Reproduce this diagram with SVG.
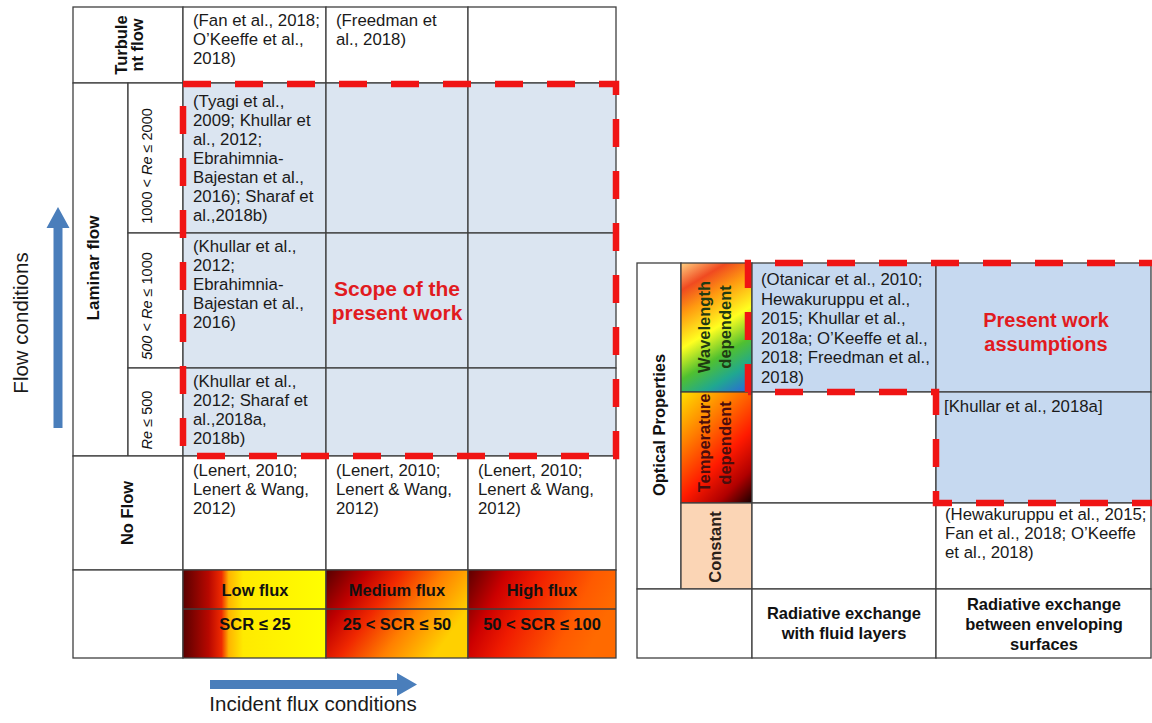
<svg xmlns="http://www.w3.org/2000/svg" width="1152" height="723" viewBox="0 0 1152 723">
  <defs>
    <style>
      .cell { fill: #ffffff; stroke: #3f3f3f; stroke-width: 1.3; }
      .hl { fill: #dbe5f1; stroke: #3f3f3f; stroke-width: 1.3; }
      .hl2 { fill: #c6d9f0; stroke: #3f3f3f; stroke-width: 1.3; }
      .grid { fill: none; stroke: #3f3f3f; stroke-width: 1.3; }
      .ref { font-family: "Liberation Sans", Arial, sans-serif; font-size: 16.8px; fill: #1a1a1a; }
      .lab { font-family: "Liberation Sans", Arial, sans-serif; font-size: 16.5px; font-weight: bold; fill: #111111; }
      .re { font-family: "Liberation Sans", Arial, sans-serif; font-size: 14.5px; fill: #111111; }
      .axis { font-family: "Liberation Sans", Arial, sans-serif; font-size: 20.5px; fill: #1a1a1a; }
      .scope { font-family: "Liberation Sans", Arial, sans-serif; font-size: 21px; font-weight: bold; fill: #e11b1f; text-anchor: middle; }
      .dash { fill: none; stroke: #f01414; stroke-width: 6.5; stroke-dasharray: 28 24; }
      .arrow { fill: #4a7ebb; }
      .mid { text-anchor: middle; }
    </style>
    <linearGradient id="gLow" x1="0" y1="0" x2="1" y2="0">
      <stop offset="0" stop-color="#5a0000"/>
      <stop offset="0.18" stop-color="#b80800"/>
      <stop offset="0.27" stop-color="#ef2a00"/>
      <stop offset="0.32" stop-color="#ffb400"/>
      <stop offset="0.42" stop-color="#ffea00"/>
      <stop offset="1" stop-color="#ffff00"/>
    </linearGradient>
    <linearGradient id="gMed" x1="0" y1="0" x2="1" y2="0.45">
      <stop offset="0" stop-color="#560000"/>
      <stop offset="0.25" stop-color="#c00000"/>
      <stop offset="0.45" stop-color="#f02800"/>
      <stop offset="0.7" stop-color="#ff8000"/>
      <stop offset="1" stop-color="#ffd000"/>
    </linearGradient>
    <linearGradient id="gHigh" x1="0" y1="0" x2="1" y2="0.3">
      <stop offset="0" stop-color="#5c0000"/>
      <stop offset="0.25" stop-color="#cc0000"/>
      <stop offset="0.45" stop-color="#f01c00"/>
      <stop offset="0.8" stop-color="#ff5a00"/>
      <stop offset="1" stop-color="#ff6a00"/>
    </linearGradient>
    <!-- spectrum running from the upper left to the lower right corner -->
    <linearGradient id="gWave" gradientUnits="userSpaceOnUse" x1="681" y1="263" x2="757" y2="389">
      <stop offset="0" stop-color="#ffd080"/>
      <stop offset="0.16" stop-color="#f04a20"/>
      <stop offset="0.3" stop-color="#ff9a10"/>
      <stop offset="0.5" stop-color="#ffff20"/>
      <stop offset="0.68" stop-color="#50c030"/>
      <stop offset="0.83" stop-color="#20a890"/>
      <stop offset="0.96" stop-color="#2a70d0"/>
      <stop offset="1" stop-color="#3060e0"/>
    </linearGradient>
    <linearGradient id="gTemp" gradientUnits="userSpaceOnUse" x1="681" y1="392" x2="771" y2="482">
      <stop offset="0" stop-color="#ffe000"/>
      <stop offset="0.3" stop-color="#ff8000"/>
      <stop offset="0.6" stop-color="#ff1a00"/>
      <stop offset="0.82" stop-color="#b00000"/>
      <stop offset="1" stop-color="#200000"/>
    </linearGradient>
  </defs>

  <rect width="1152" height="723" fill="#ffffff"/>

  <!-- ===== Flow-conditions table ===== -->
  <g id="turbulent-label">
    <rect class="cell" x="73" y="7" width="110" height="76"/>
    <text class="lab mid" transform="translate(127,45) rotate(-90)">Turbule</text>
    <text class="lab mid" transform="translate(143,45) rotate(-90)">nt flow</text>
  </g>
  <g id="turbulent-low">
    <rect class="cell" x="183" y="7" width="143" height="76"/>
    <text class="ref"><tspan x="193" y="26">(Fan et al., 2018;</tspan><tspan x="193" y="45">O’Keeffe et al.,</tspan><tspan x="193" y="64">2018)</tspan></text>
  </g>
  <g id="turbulent-medium">
    <rect class="cell" x="326" y="7" width="142" height="76"/>
    <text class="ref"><tspan x="336" y="26">(Freedman et</tspan><tspan x="336" y="45">al., 2018)</tspan></text>
  </g>
  <g id="turbulent-high">
    <rect class="cell" x="468" y="7" width="148" height="76"/>
  </g>

  <g id="laminar-label">
    <rect class="cell" x="73" y="83" width="55" height="373"/>
    <text class="lab mid" style="font-size:17px" transform="translate(99,268) rotate(-90)">Laminar flow</text>
  </g>
  <g id="re-1000-2000">
    <rect class="cell" x="128" y="83" width="55" height="150"/>
    <text class="re mid" transform="translate(152,166) rotate(-90)">1000 &lt; <tspan font-style="italic">Re</tspan> ≤ 2000</text>
  </g>
  <g id="re-500-1000">
    <rect class="cell" x="128" y="233" width="55" height="135"/>
    <text class="re mid" transform="translate(152,306) rotate(-90)"><tspan font-style="italic">500</tspan>  &lt; <tspan font-style="italic">Re</tspan> ≤ 1000</text>
  </g>
  <g id="re-500">
    <rect class="cell" x="128" y="368" width="55" height="88"/>
    <text class="re mid" transform="translate(152,420) rotate(-90)"><tspan font-style="italic">Re</tspan> ≤ 500</text>
  </g>

  <g id="laminar-high-re">
    <rect class="hl" x="183" y="83" width="143" height="150"/>
    <rect class="hl" x="326" y="83" width="142" height="150"/>
    <rect class="hl" x="468" y="83" width="148" height="150"/>
    <text class="ref"><tspan x="193" y="107">(Tyagi et al.,</tspan><tspan x="193" y="126">2009; Khullar et</tspan><tspan x="193" y="145">al., 2012;</tspan><tspan x="193" y="164">Ebrahimnia-</tspan><tspan x="193" y="183">Bajestan et al.,</tspan><tspan x="193" y="202">2016); Sharaf et</tspan><tspan x="193" y="221">al.,2018b)</tspan></text>
  </g>
  <g id="laminar-mid-re">
    <rect class="hl" x="183" y="233" width="143" height="135"/>
    <rect class="hl" x="326" y="233" width="142" height="135"/>
    <rect class="hl" x="468" y="233" width="148" height="135"/>
    <text class="ref"><tspan x="193" y="252">(Khullar et al.,</tspan><tspan x="193" y="271">2012;</tspan><tspan x="193" y="290">Ebrahimnia-</tspan><tspan x="193" y="309">Bajestan et al.,</tspan><tspan x="193" y="328">2016)</tspan></text>
  </g>
  <g id="laminar-low-re">
    <rect class="hl" x="183" y="368" width="143" height="88"/>
    <rect class="hl" x="326" y="368" width="142" height="88"/>
    <rect class="hl" x="468" y="368" width="148" height="88"/>
    <text class="ref"><tspan x="193" y="387">(Khullar et al.,</tspan><tspan x="193" y="406">2012; Sharaf et</tspan><tspan x="193" y="425">al.,2018a,</tspan><tspan x="193" y="444">2018b)</tspan></text>
  </g>

  <g id="noflow-label">
    <rect class="cell" x="73" y="456" width="110" height="114"/>
    <text class="lab mid" transform="translate(133,513) rotate(-90)">No Flow</text>
  </g>
  <g id="noflow-low">
    <rect class="cell" x="183" y="456" width="143" height="114"/>
    <text class="ref"><tspan x="193" y="476">(Lenert, 2010;</tspan><tspan x="193" y="495">Lenert &amp; Wang,</tspan><tspan x="193" y="514">2012)</tspan></text>
  </g>
  <g id="noflow-medium">
    <rect class="cell" x="326" y="456" width="142" height="114"/>
    <text class="ref"><tspan x="336" y="476">(Lenert, 2010;</tspan><tspan x="336" y="495">Lenert &amp; Wang,</tspan><tspan x="336" y="514">2012)</tspan></text>
  </g>
  <g id="noflow-high">
    <rect class="cell" x="468" y="456" width="148" height="114"/>
    <text class="ref"><tspan x="478" y="476">(Lenert, 2010;</tspan><tspan x="478" y="495">Lenert &amp; Wang,</tspan><tspan x="478" y="514">2012)</tspan></text>
  </g>

  <g id="flux-corner">
    <rect class="cell" x="73" y="570" width="110" height="88"/>
  </g>
  <g id="flux-low">
    <rect x="183" y="570" width="143" height="88" fill="url(#gLow)" stroke="#3f3f3f" stroke-width="1.3"/>
    <line class="grid" x1="183" y1="609" x2="326" y2="609"/>
    <text class="lab mid" x="255" y="596">Low flux</text>
    <text class="lab mid" x="255" y="630">SCR ≤ 25</text>
  </g>
  <g id="flux-medium">
    <rect x="326" y="570" width="142" height="88" fill="url(#gMed)" stroke="#3f3f3f" stroke-width="1.3"/>
    <line class="grid" x1="326" y1="609" x2="468" y2="609"/>
    <text class="lab mid" x="397" y="596">Medium flux</text>
    <text class="lab mid" x="397" y="630">25 &lt; SCR ≤ 50</text>
  </g>
  <g id="flux-high">
    <rect x="468" y="570" width="148" height="88" fill="url(#gHigh)" stroke="#3f3f3f" stroke-width="1.3"/>
    <line class="grid" x1="468" y1="609" x2="616" y2="609"/>
    <text class="lab mid" x="542" y="596">High flux</text>
    <text class="lab mid" x="542" y="630">50 &lt; SCR ≤ 100</text>
  </g>

  <g id="scope">
    <path class="dash" d="M183,84 H616 V456 H183 Z"/>
    <text class="scope" x="397" y="296">Scope of the</text>
    <text class="scope" x="397" y="320">present work</text>
  </g>

  <!-- ===== Optical-properties table ===== -->
  <g id="optical-label">
    <rect class="cell" x="637" y="263" width="44" height="326"/>
    <text class="lab mid" transform="translate(665,425) rotate(-90)">Optical Properties</text>
  </g>
  <g id="wavelength-label">
    <rect x="681" y="263" width="71" height="129" fill="url(#gWave)" stroke="#3f3f3f" stroke-width="1.3"/>
    <text class="lab mid" style="fill:#1f3a12" transform="translate(710,327) rotate(-90)">Wavelength</text>
    <text class="lab mid" style="fill:#1f3a12" transform="translate(731,327) rotate(-90)">dependent</text>
  </g>
  <g id="temperature-label">
    <rect x="681" y="392" width="71" height="111" fill="url(#gTemp)" stroke="#3f3f3f" stroke-width="1.3"/>
    <text class="lab mid" style="fill:#4a0d0d" transform="translate(710,443) rotate(-90)">Temperature</text>
    <text class="lab mid" style="fill:#4a0d0d" transform="translate(731,443) rotate(-90)">dependent</text>
  </g>
  <g id="constant-label">
    <rect x="681" y="503" width="71" height="86" fill="#fbd5b5" stroke="#3f3f3f" stroke-width="1.3"/>
    <text class="lab mid" style="fill:#2a2018" transform="translate(721,547) rotate(-90)">Constant</text>
  </g>

  <g id="wavelength-fluid">
    <rect class="hl2" x="752" y="263" width="184" height="129"/>
    <text class="ref"><tspan x="761" y="285">(Otanicar et al., 2010;</tspan><tspan x="761" y="304.5">Hewakuruppu et al.,</tspan><tspan x="761" y="324">2015; Khullar et al.,</tspan><tspan x="761" y="343.5">2018a; O’Keeffe et al.,</tspan><tspan x="761" y="363">2018; Freedman et al.,</tspan><tspan x="761" y="382.5">2018)</tspan></text>
  </g>
  <g id="wavelength-surfaces">
    <rect class="hl2" x="936" y="263" width="215" height="129"/>
    <text class="scope" style="font-size:20px" x="1046" y="327">Present work</text>
    <text class="scope" style="font-size:20px" x="1046" y="351">assumptions</text>
  </g>
  <g id="temperature-fluid">
    <rect class="cell" x="752" y="392" width="184" height="111"/>
  </g>
  <g id="temperature-surfaces">
    <rect class="hl2" x="936" y="392" width="215" height="111"/>
    <text class="ref" x="944" y="412">[Khullar et al., 2018a]</text>
  </g>
  <g id="constant-fluid">
    <rect class="cell" x="752" y="503" width="184" height="86"/>
  </g>
  <g id="constant-surfaces">
    <rect class="cell" x="936" y="503" width="215" height="86"/>
    <text class="ref"><tspan x="945" y="520">(Hewakuruppu et al., 2015;</tspan><tspan x="945" y="539">Fan et al., 2018; O’Keeffe</tspan><tspan x="945" y="558">et al., 2018)</tspan></text>
  </g>
  <g id="footer-corner">
    <rect class="cell" x="637" y="589" width="115" height="69"/>
  </g>
  <g id="footer-fluid">
    <rect class="cell" x="752" y="589" width="184" height="69"/>
    <text class="lab mid" x="844" y="619">Radiative exchange</text>
    <text class="lab mid" x="844" y="639">with fluid layers</text>
  </g>
  <g id="footer-surfaces">
    <rect class="cell" x="936" y="589" width="215" height="69"/>
    <text class="lab mid" x="1044" y="610">Radiative exchange</text>
    <text class="lab mid" x="1044" y="630">between enveloping</text>
    <text class="lab mid" x="1044" y="650">surfaces</text>
  </g>

  <g id="assumptions">
    <path class="dash" d="M748,392 V263 H1160 M1160,503 H936 V392 H748"/>
  </g>

  <!-- ===== Axis arrows ===== -->
  <g id="connectors">
    <g id="flow-axis">
      <polygon class="arrow" points="53.5,428 62.5,428 62.5,228 69.5,228 58,207 46.5,228 53.5,228"/>
      <text class="axis mid" transform="translate(28,323) rotate(-90)">Flow conditions</text>
    </g>
    <g id="flux-axis">
      <polygon class="arrow" points="210,680 397,680 397,673 417,684.5 397,696 397,689 210,689"/>
      <text class="axis mid" x="313" y="711">Incident flux conditions</text>
    </g>
  </g>
</svg>
